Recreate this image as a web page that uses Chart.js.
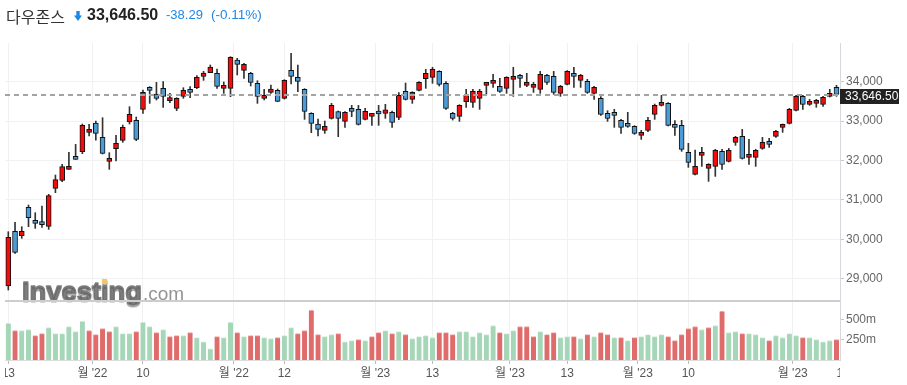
<!DOCTYPE html>
<html lang="ko">
<head>
  <meta charset="UTF-8" />
  <title>다우존스 | 일봉</title>
  <script src="https://cdn.jsdelivr.net/npm/chart.js@4.4.0/dist/chart.umd.min.js"></script>
  <style>
    html, body { margin: 0; padding: 0; background: #fff; }
    #wrap { position: relative; width: 907px; height: 385px; overflow: hidden; }
    #head span { position: absolute; top: 5px; line-height: 20px; white-space: nowrap;
                 font-family: 'Liberation Sans', Arial, sans-serif; }
    #name  { left: 6px;  font: 16px 'Noto Sans CJK KR', sans-serif !important; color: #333; top: 4px !important; }
    #price { left: 87px; font-weight: bold; font-size: 16px; color: #222; }
    #chg   { left: 166px; font-size: 13px; color: #1e88e5; }
    #pct   { left: 211px; font-size: 13.5px; color: #1e88e5; }
    #arrow { position: absolute; left: 74px; top: 11px; }
    canvas { position: absolute; left: 0; top: 0; }
  </style>
</head>
<body>
<div id="wrap">
  <canvas id="chart" width="907" height="385"></canvas>
  <div id="head">
    <span id="name">다우존스</span>
    <svg id="arrow" width="8" height="10" viewBox="0 0 8 10">
      <path d="M2.3 0h3.4v4.6H8L4 10 0 4.6h2.3z" fill="#1e88e5"/>
    </svg>
    <span id="price">33,646.50</span>
    <span id="chg">-38.29</span>
    <span id="pct">(-0.11%)</span>
  </div>
</div>

<script>
  // ---- data (daily candles) ----------------------------------------------
  const opens  = [28814,30201,30091,30811,30455,30438,30328,31293,31496,31775,32088,32223,32714,32951,32587,31978,32300,32511,32976,33019,
                  33298,33831,33687,33831,33518,33323,33628,33780,33848,34135,34228,34212,33831,33831,34550,34288,34212,33958,33577,33729,
                  33780,33577,34288,34110,33806,33196,32926,32765,33069,33239,32993,33298,33298,33044,33120,33247,33196,33222,33095,33755,
                  33552,33780,34076,34110,34262,33958,33196,33120,33492,33475,33577,33907,33958,33882,33831,34059,34161,33907,33856,33806,
                  34161,34135,33704,33932,34212,34034,34008,33704,33577,33196,33196,33019,32917,32866,32638,32765,33171,33399,33450,32892,
                  32892,32206,31648,32130,31800,31851,32232,31978,32460,32613,32080,32080,32308,32460,32613,32841,32942,33272,33628,33425,
                  33450,33425,33628,33856];
  const highs  = [30193,30430,30320,30870,30675,30844,31141,31631,31902,32206,32409,32926,32917,33002,33086,32198,32638,32900,33365,33104,
                  33788,33874,33983,34000,33704,33594,33848,33873,34153,34262,34424,34321,33992,34635,34593,34465,34237,34025,33806,33915,
                  33814,34051,34720,34424,33823,33213,33052,33002,33450,33256,33239,33399,33399,33323,33188,33399,33425,33256,33721,33966,
                  33746,34000,34313,34364,34279,34000,33222,33416,33806,33806,33806,33975,34186,34085,34127,34364,34186,34212,33983,34262,
                  34186,34262,33907,34279,34364,34186,34059,33882,33619,33264,33298,33044,33222,32883,32765,33095,33433,33653,33467,33010,
                  33019,32435,32266,32333,31919,32283,32283,32308,32613,32790,32537,32283,32587,32562,32765,32926,33323,33653,33653,33552,
                  33552,33628,33806,33907];
  const lows   = [28713,29643,30024,30320,30278,30303,30252,31183,31462,31775,32029,32173,32621,32519,32165,31775,31987,32461,32926,32502,
                  33196,33450,33535,33349,33467,33264,33577,33594,33822,34034,34228,33831,33704,33619,34170,34085,33890,33450,33535,33704,
                  33492,33560,33941,33746,33044,32706,32621,32689,33052,32604,32841,33112,32900,33027,32892,32892,33069,32841,33036,33535,
                  33450,33763,33831,33958,33890,33298,33027,32993,33349,33349,33298,33679,33856,33729,33704,33628,33856,33873,33729,33704,
                  33932,33679,33628,33915,33856,33856,33704,33552,33146,32993,32841,32689,32841,32663,32536,32731,33044,33382,32875,32638,
                  32232,31826,31631,31851,31470,31597,31775,31961,32384,32037,31902,31851,32283,32333,32587,32714,32926,33256,33298,33399,
                  33349,33374,33611,33628];
  const closes = [30049,29668,30201,30548,30404,30371,31107,31513,31843,31851,32029,32892,32773,32689,32181,32037,32435,32841,33171,32536,
                  33729,33780,33577,33628,33577,33577,33780,33729,34110,34220,34372,33882,33890,34618,34440,34440,33983,33628,33628,33814,
                  33501,34034,34135,34008,33247,32942,32790,32866,33399,33069,33222,33247,32917,33247,33171,33179,33289,32968,33653,33552,
                  33729,33983,34212,34313,33932,33323,33069,33399,33653,33755,33755,33958,34017,33755,34110,34110,34085,33958,33907,34186,
                  33983,33729,33882,34262,34135,34161,33729,33856,33171,33069,33146,32841,32866,32689,32689,33019,33399,33450,32892,32841,
                  32283,31953,31851,32181,31902,32257,31902,32257,32587,32054,32130,32257,32460,32410,32739,32892,33298,33628,33425,33501,
                  33501,33602,33704,33679];
  // volume in millions, and whether the close was up on the prior day (1) or not (0)
  const volumes = [450,362.5,362.5,375,300,325,400,325,325,412.5,350,475,362.5,312.5,387.5,350,412.5,325,325,350,
                   462.5,412.5,337.5,375,287.5,300,300,337.5,275,225,137.5,287.5,275,462.5,337.5,287.5,300,300,275,262.5,
                   275,300,400,325,362.5,612.5,312.5,287.5,312.5,325,225,237.5,250,237.5,287.5,337.5,362.5,325,350,312.5,
                   262.5,287.5,300,275,337.5,337.5,312.5,350,350,287.5,337.5,312.5,425,337.5,325,362.5,412.5,412.5,287.5,350,
                   312.5,337.5,275,287.5,287.5,262.5,312.5,287.5,337.5,312.5,275,275,237.5,275,287.5,312.5,287.5,312.5,287.5,237.5,
                   312.5,387.5,412.5,375,400,425,600,337.5,350,325,325,312.5,275,237.5,300,275,325,300,275,275,
                   250,225,237.5,250];
  const volUp   = [1,0,1,1,0,0,1,1,1,1,1,1,0,0,0,0,1,1,1,0,1,1,0,1,0,
                   0,1,0,1,1,1,0,1,1,0,1,0,0,1,1,0,1,1,0,0,0,0,1,1,0,
                   1,1,0,1,0,0,1,0,1,0,1,1,1,1,0,0,0,1,1,1,1,1,1,0,1,
                   1,0,0,0,1,0,0,1,1,0,1,0,1,0,0,1,0,1,0,1,1,1,1,0,0,
                   0,0,0,1,0,1,0,1,1,0,1,1,1,0,1,1,1,1,0,1,1,1,1,0];
  const lastPrice   = 33646.50;
  const priceTicks  = [29000, 30000, 31000, 32000, 33000, 34000];
  const volTicks    = [250, 500];
  const xTickPos    = [0, 12.5, 20, 33.5, 41, 54.5, 63, 74.5, 83, 93.5, 101, 116.5, 124];
  const xTickLabels = ['13', "월 '22", '10', "월 '22", '12', "월 '23", '13', "월 '23", '13', "월 '23", '10', "월 '23", '13'];

  // ---- colours -------------------------------------------------------------
  const UP = '#f20d0d', DOWN = '#4b9bd6';
  const VOL_UP = '#a5d6b7', VOL_DOWN = '#e06b6b';

  const idx = opens.map((_, i) => i);
  const X_MIN = -0.49, X_MAX = 123.52;

  // ---- extra drawing: watermark, price line, x labels ---------------------
  const overlay = {
    id: 'overlay',
    beforeDatasetsDraw(chart) {
      const ctx = chart.ctx;
      ctx.save();
      ctx.fillStyle = ctx.strokeStyle = 'rgba(118,118,118,0.92)';
      ctx.lineWidth = 1.3;
      ctx.lineJoin = 'round';
      ctx.shadowColor = 'rgba(0,0,0,0.25)';
      ctx.shadowOffsetY = 1.5;
      ctx.font = 'bold 25px "Liberation Sans", Arial, sans-serif';
      const w = ctx.measureText('Investing').width;
      ctx.translate(22, 300);
      ctx.scale(120 / w, 1);
      ctx.fillText('Investing', 0, 0);
      ctx.strokeText('Investing', 0, 0);
      ctx.restore();
      ctx.save();
      ctx.fillStyle = 'rgba(135,135,135,0.9)';
      ctx.font = '19px "Liberation Sans", Arial, sans-serif';
      ctx.fillText('.com', 143, 300);
      ctx.fillStyle = '#f6c56b';
      ctx.fillRect(102, 279, 5, 5);
      ctx.restore();
    },
    afterDraw(chart) {
      const {ctx, chartArea: a, scales} = chart;
      const y = Math.round(scales.y.getPixelForValue(lastPrice)) - 1;
      ctx.save();
      // panel separator
      ctx.strokeStyle = '#cdcdcd';
      ctx.lineWidth = 2;
      ctx.beginPath();
      ctx.moveTo(a.left, scales.yv.top);
      ctx.lineTo(a.right, scales.yv.top);
      ctx.stroke();
      // last price dashed line
      ctx.strokeStyle = '#a3a3a3';
      ctx.setLineDash([5, 4]);
      ctx.beginPath();
      ctx.moveTo(a.left, y);
      ctx.lineTo(a.right, y);
      ctx.stroke();
      ctx.setLineDash([]);
      // price tag
      ctx.fillStyle = '#222';
      ctx.fillRect(a.right, y - 6, 59, 15);
      ctx.fillStyle = '#fff';
      ctx.font = '12px "Liberation Sans", Arial, sans-serif';
      ctx.textBaseline = 'middle';
      ctx.fillText(lastPrice.toLocaleString('en-US', {minimumFractionDigits: 2}), a.right + 5, y + 2);
      // x labels, clipped to the plot width
      ctx.beginPath();
      ctx.rect(a.left, a.bottom, a.right - a.left, 30);
      ctx.clip();
      ctx.fillStyle = '#555';
      ctx.font = '12px "Liberation Sans", "Noto Sans CJK KR", sans-serif';
      ctx.textAlign = 'center';
      xTickPos.forEach((v, i) => {
        ctx.fillText(xTickLabels[i], scales.x.getPixelForValue(v), a.bottom + 14);
      });
      ctx.restore();
    }
  };

  Chart.defaults.font.family = '"Liberation Sans", Arial, sans-serif';
  Chart.defaults.font.size = 12;
  Chart.defaults.color = '#666';

  new Chart(document.getElementById('chart'), {
    type: 'bar',
    data: {
      datasets: [
        { // wicks
          data: idx.map(i => ({x: i, y: [lows[i], highs[i]]})),
          backgroundColor: '#333', barThickness: 1, grouped: false, order: 3
        },
        { // bodies
          data: idx.map(i => ({x: i, y: [opens[i], closes[i]]})),
          backgroundColor: idx.map(i => closes[i] >= opens[i] ? UP : DOWN),
          borderColor: '#111', borderWidth: 1, borderSkipped: false,
          barThickness: 5, minBarLength: 3, grouped: false, order: 2
        },
        { // volume
          data: idx.map(i => ({x: i, y: volumes[i]})),
          yAxisID: 'yv',
          backgroundColor: idx.map(i => volUp[i] ? VOL_UP : VOL_DOWN),
          borderColor: idx.map(i => volUp[i] ? '#cdebd6' : '#f0a5a5'),
          borderWidth: {top: 1, left: 0, right: 0, bottom: 0},
          barThickness: 5, grouped: false, order: 1
        }
      ]
    },
    options: {
      responsive: false,
      animation: false,
      layout: { padding: { left: 5, top: 43, right: 0, bottom: 21 } },
      plugins: { legend: { display: false }, tooltip: { enabled: false } },
      scales: {
        x: {
          type: 'linear', offset: false, min: X_MIN, max: X_MAX,
          afterBuildTicks: s => { s.ticks = xTickPos.filter(v => v <= X_MAX).map(v => ({value: v})); },
          grid: { color: '#f1f1f1', offset: false, tickLength: 4, tickColor: '#bbb' },
          border: { color: '#dcdcdc' },
          ticks: { display: false }
        },
        y: {
          position: 'right', stack: 'main', stackWeight: 258,
          min: 28434, max: 34982,
          afterBuildTicks: s => { s.ticks = priceTicks.map(v => ({value: v})); },
          afterFit: s => { s.width = 67; },
          grid: { color: '#f1f1f1', tickLength: 4, tickColor: '#c8c8c8' },
          border: { color: '#d5d9de' },
          ticks: { padding: 2, autoSkip: false, callback: v => v.toLocaleString('en-US') }
        },
        yv: {
          position: 'right', stack: 'main', stackWeight: 59,
          min: 0, max: 726,
          afterBuildTicks: s => { s.ticks = volTicks.map(v => ({value: v})); },
          afterFit: s => { s.width = 67; },
          grid: { drawOnChartArea: false, tickLength: 4, tickColor: '#c8c8c8' },
          border: { color: '#d5d9de' },
          ticks: { padding: 2, autoSkip: false, callback: v => v + 'm' }
        }
      }
    },
    plugins: [overlay]
  });
</script>
</body>
</html>
